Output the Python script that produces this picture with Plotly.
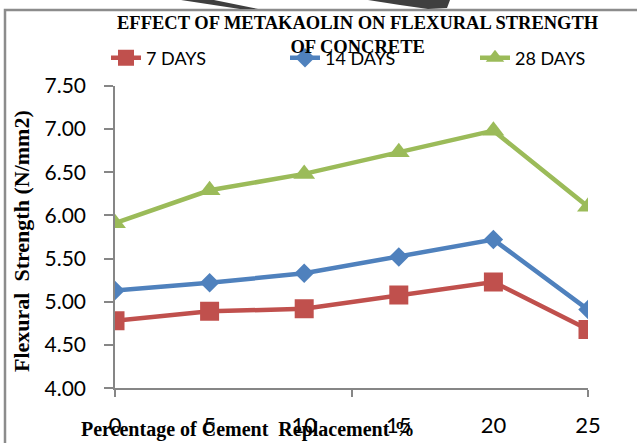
import plotly.graph_objects as go

# Cement replacement by metakaolin (%)
replacement = [0, 5, 10, 15, 20, 25]

# Flexural strength (N/mm2) at each curing age
days_7 = [4.78, 4.89, 4.92, 5.08, 5.23, 4.68]
days_14 = [5.13, 5.22, 5.33, 5.52, 5.72, 4.91]
days_28 = [5.91, 6.29, 6.48, 6.73, 6.98, 6.10]

series_names = ["7 DAYS", "14 DAYS", "28 DAYS"]
y_ticks = [4.0, 4.5, 5.0, 5.5, 6.0, 6.5, 7.0, 7.5]

W, H = 637, 443
AXIS_GREY = "#868686"
SERIF = "Liberation Serif"
SANS = "Lato"

styles = [
    dict(color="#C0504D", symbol="square", size=19, legend="legend", lx=106),
    dict(color="#4F81BD", symbol="diamond", size=15, legend="legend2", lx=285),
    dict(color="#9BBB59", symbol="triangle-up", size=19, legend="legend3", lx=475),
]

fig = go.Figure()
for name, values, st in zip(series_names, [days_7, days_14, days_28], styles):
    fig.add_trace(go.Scatter(
        x=replacement, y=values, name=name, mode="lines+markers",
        line=dict(color=st["color"], width=4.5),
        marker=dict(color=st["color"], symbol=st["symbol"], size=st["size"]),
        legend=st["legend"],
    ))

x_dom = [115 / W, 588 / W]
y_dom = [(H - 388.3) / H, (H - 85.7) / H]


def legend_box(px):
    return dict(
        orientation="h", x=px / W, y=1 - 58 / H, xanchor="left", yanchor="middle",
        font=dict(family=SANS, size=18, color="black"),
        bgcolor="rgba(0,0,0,0)", itemsizing="trace",
    )


fig.update_layout(
    width=W, height=H, autosize=False,
    margin=dict(l=0, r=0, t=0, b=0, autoexpand=False),
    paper_bgcolor="white", plot_bgcolor="white",
    font=dict(family=SANS, color="black"),
    showlegend=True,
    legend=legend_box(styles[0]["lx"]),
    legend2=legend_box(styles[1]["lx"]),
    legend3=legend_box(styles[2]["lx"]),
    xaxis=dict(
        domain=x_dom, range=[0, 25], tickvals=replacement, ticks="",
        showline=False, showgrid=False, zeroline=False, automargin=False,
        tickfont=dict(family=SANS, size=22, color="black"),
        ticklabelstandoff=22,
    ),
    xaxis2=dict(
        domain=x_dom, range=[0, 25], overlaying="x", anchor="y", side="bottom",
        tickvals=[0, 12.5, 25], showticklabels=False, ticks="outside",
        ticklen=7, tickwidth=1.5, tickcolor=AXIS_GREY,
        showline=True, linecolor=AXIS_GREY, linewidth=1.5,
        showgrid=False, zeroline=False, automargin=False,
    ),
    yaxis=dict(
        domain=y_dom, range=[4, 7.5], tickvals=y_ticks, tickformat=".2f",
        ticks="outside", ticklen=9, tickwidth=1.5, tickcolor=AXIS_GREY,
        showline=True, linecolor=AXIS_GREY, linewidth=1.5,
        showgrid=False, zeroline=False, automargin=False,
        tickfont=dict(family=SANS, size=21, color="black"),
        ticklabelstandoff=14,
    ),
)

# invisible trace to activate the secondary x axis carrying the axis line
fig.add_trace(go.Scatter(x=[replacement[0]], y=[y_ticks[0]], xaxis="x2", yaxis="y",
                         mode="markers", marker=dict(opacity=0), showlegend=False,
                         hoverinfo="skip"))

# chart frame
fig.add_shape(type="rect", xref="paper", yref="paper",
              x0=5 / W, x1=1.05, y0=-0.05, y1=1 - 10 / H,
              line=dict(color="#8c8c8c", width=2.5), fillcolor="rgba(0,0,0,0)",
              layer="below")


def px_path(points):
    """SVG path in paper fractions from pixel points (top-left origin)."""
    parts = [f"{x / W:.4f},{1 - y / H:.4f}" for x, y in points]
    return "M " + " L ".join(parts) + " Z"


# dark artwork poking in above the frame
for pts in ([(181, 0), (214, 0), (258, 9), (240, 9)],
            [(368, 0), (450, 0), (447, 8), (428, 9), (400, 5)]):
    fig.add_shape(type="path", xref="paper", yref="paper", path=px_path(pts),
                  fillcolor="#3f3f3f", line=dict(width=0), layer="below")

# title
fig.add_annotation(
    text="EFFECT OF METAKAOLIN ON FLEXURAL STRENGTH<br>OF CONCRETE",
    xref="paper", yref="paper", x=358 / W, y=1 - 11 / H,
    xanchor="center", yanchor="top", showarrow=False, align="center",
    font=dict(family=SERIF, size=18.5, color="black", weight="bold"),
)

# axis titles
fig.add_annotation(
    text="Percentage of Cement  Replacement %",
    xref="paper", yref="paper", x=79 / W, y=1 - 429 / H,
    xanchor="left", yanchor="middle", showarrow=False,
    font=dict(family=SERIF, size=20, color="black", weight="bold"),
)
fig.add_annotation(
    text="Flexural  Strength (N/mm2)",
    xref="paper", yref="paper", x=21 / W, y=1 - 241 / H,
    xanchor="center", yanchor="middle", showarrow=False, textangle=-90,
    font=dict(family=SERIF, size=22, color="black", weight="bold"),
)

fig.write_html("out.html")
